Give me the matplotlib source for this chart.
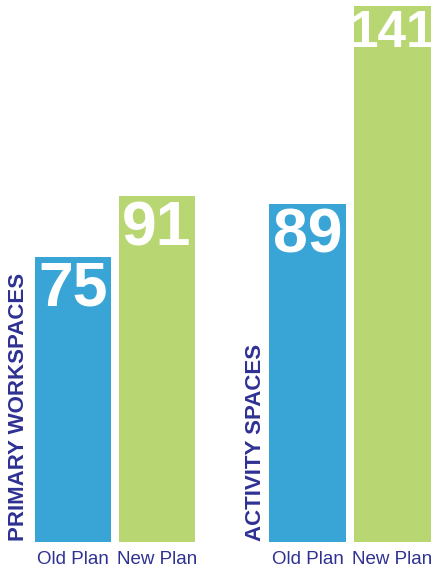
import matplotlib
matplotlib.use("Agg")
import matplotlib.pyplot as plt

categories = ["Old Plan", "New Plan", "Old Plan", "New Plan"]
values = [75, 91, 89, 141]
group_labels = ["PRIMARY WORKSPACES", "ACTIVITY SPACES"]

BLUE = "#38a5d6"
GREEN = "#b8d672"
NAVY = "#2e3192"
colors = [BLUE, GREEN, BLUE, GREEN]
positions = [0, 0.994, 2.775, 3.781]
group_label_x = [-0.645, 2.165]

W, H = 439, 571
fig = plt.figure(figsize=(W / 100, H / 100), dpi=100)
bottom_px = 29.3
top_px = 6.0
ax = fig.add_axes([0, bottom_px / H, 1, (H - bottom_px - top_px) / H])
ax.set_xlim((0 - 73) / 84.5, (W - 73) / 84.5)
ax.set_ylim(0, 141)

ax.bar(positions, values, width=0.9, color=colors, linewidth=0)

FAM = ["Liberation Sans", "DejaVu Sans"]
for x, v in zip(positions, values):
    size = 37 if v >= 100 else 45
    ax.text(x, v - 0.8, str(v), ha="center", va="top", color="white",
            fontsize=size, fontweight="bold", family=FAM)

for x, lab in zip(group_label_x, group_labels):
    ax.text(x, 0.3, lab, rotation=90, ha="center", va="bottom", color=NAVY,
            fontsize=16, fontweight="bold", family=FAM)

ax.set_xticks(positions)
ax.set_xticklabels(categories, color=NAVY, fontsize=13.5, family=FAM)
ax.tick_params(axis="x", length=0, pad=6.5)
ax.set_yticks([])
for s in ax.spines.values():
    s.set_visible(False)
ax.patch.set_alpha(0)

fig.savefig("out.png", dpi=100)
